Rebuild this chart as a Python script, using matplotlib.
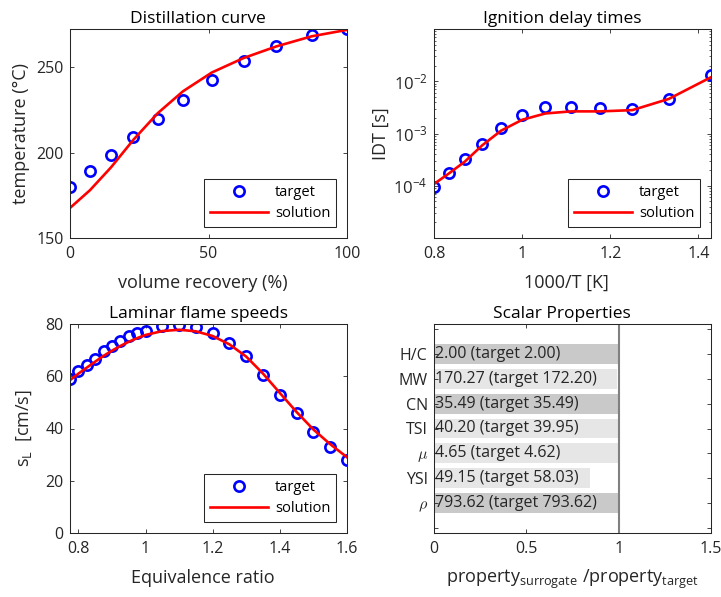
import numpy as np
import matplotlib
matplotlib.use("Agg")
import matplotlib.pyplot as plt
from matplotlib.ticker import LogLocator, NullFormatter, FixedLocator

# ---------------- data ----------------
# distillation curve
dist_recovery = [0, 7.2, 14.8, 22.9, 31.7, 40.8, 51.2, 62.7, 74.5, 87.2, 100]
dist_target = [179.9, 189.1, 198.8, 209.0, 219.7, 230.7, 242.6, 253.5, 262.7, 268.9, 272.5]
dist_sol_recovery = [0, 7.2, 14.8, 22.9, 31.7, 40.8, 51.2, 62.7, 74.5, 87.2, 100]
dist_solution = [167.6, 178.0, 191.4, 207.6, 223.2, 236.0, 247.0, 255.5, 262.3, 268.2, 272.0]

# ignition delay times
idt_invT = [0.800, 0.833, 0.870, 0.909, 0.952, 1.000, 1.053, 1.111, 1.176, 1.250, 1.333, 1.429]
idt_target = [9.3e-5, 1.75e-4, 3.26e-4, 6.3e-4, 1.27e-3, 2.29e-3, 3.16e-3, 3.26e-3,
              3.07e-3, 2.94e-3, 4.5e-3, 1.32e-2]
idt_solution = [1.08e-4, 1.7e-4, 2.9e-4, 5.9e-4, 1.13e-3, 1.83e-3, 2.42e-3, 2.65e-3,
                2.65e-3, 2.8e-3, 4.6e-3, 1.2e-2]

# laminar flame speeds
lfs_phi = [0.775, 0.8, 0.825, 0.85, 0.875, 0.9, 0.925, 0.95, 0.975, 1.0, 1.05, 1.1,
           1.15, 1.2, 1.25, 1.3, 1.35, 1.4, 1.45, 1.5, 1.55, 1.6]
lfs_target = [58.9, 62.2, 64.4, 66.7, 69.7, 71.7, 73.6, 75.3, 76.5, 77.5, 79.3, 79.7,
              78.7, 76.5, 72.7, 67.6, 60.3, 52.9, 45.9, 38.6, 32.9, 27.8]
lfs_solution = [58.5, 61.0, 63.3, 65.6, 67.8, 69.8, 71.6, 73.2, 74.6, 75.8, 77.3, 77.8,
                77.2, 75.4, 72.2, 67.5, 61.0, 53.6, 46.3, 39.6, 34.0, 29.0]

# scalar properties
prop_names = ["H/C", "MW", "CN", "TSI", r"$\mu$", "YSI", r"$\rho$"]
prop_surrogate = [2.00, 170.27, 35.49, 40.20, 4.65, 49.15, 793.62]
prop_target = [2.00, 172.20, 35.49, 39.95, 4.62, 58.03, 793.62]

# ---------------- style ----------------
FONT = ["Open Sans", "DejaVu Sans"]
plt.rcParams["font.family"] = FONT
plt.rcParams["mathtext.fontset"] = "custom"
plt.rcParams["mathtext.rm"] = "Open Sans"
plt.rcParams["mathtext.it"] = "Open Sans:italic"
AX_COLOR = "#262626"
FS_TICK = 11.5
FS_LABEL = 13
FS_TITLE = 12.5
FS_LEG = 10.5
FS_BAR = 11.5
plt.rcParams.update({
    "font.size": FS_TICK,
    "axes.edgecolor": AX_COLOR,
    "axes.labelcolor": AX_COLOR,
    "axes.labelsize": FS_LABEL,
    "xtick.labelsize": FS_TICK,
    "ytick.labelsize": FS_TICK,
    "xtick.color": AX_COLOR,
    "ytick.color": AX_COLOR,
    "axes.linewidth": 0.75,
    "xtick.direction": "in",
    "ytick.direction": "in",
    "xtick.major.size": 3,
    "ytick.major.size": 3,
    "xtick.minor.size": 1.7,
    "ytick.minor.size": 1.7,
    "xtick.major.width": 0.6,
    "ytick.major.width": 0.6,
    "xtick.minor.width": 0.5,
    "ytick.minor.width": 0.5,
    "xtick.top": True,
    "ytick.right": True,
    "xtick.major.pad": 6.0,
    "ytick.major.pad": 4.5,
})

W, H = 721, 597
fig = plt.figure(figsize=(W / 100, H / 100), dpi=100)


def px_axes(left, right, top, bottom):
    return fig.add_axes([left / W, 1 - bottom / H, (right - left) / W, (bottom - top) / H])


ax1 = px_axes(70, 347, 29, 238)
ax2 = px_axes(434, 711, 29, 238)
ax3 = px_axes(70, 347, 324, 533)
ax4 = px_axes(434, 711, 324, 533)

MK = dict(marker="o", ls="none", mfc="none", mec=(0, 0, 1), ms=7.4, mew=1.9)
LN = dict(color=(1, 0, 0), lw=1.9)


def legend(ax):
    ax.legend(loc="lower right", fontsize=FS_LEG, frameon=True, fancybox=False,
              edgecolor=AX_COLOR, framealpha=1, handlelength=4.0,
              handletextpad=0.45, borderpad=0.4, labelspacing=0.45,
              borderaxespad=0.75)
    ax.get_legend().get_frame().set_linewidth(0.75)


def title(ax, s):
    ax.set_title(s, fontsize=FS_TITLE, pad=4.5, color="black", x=0.463)


# distillation curve
ax1.plot(dist_recovery, dist_target, label="target", **MK)
ax1.plot(dist_sol_recovery, dist_solution, label="solution", **LN)
ax1.set_xlim(0, 100)
ax1.set_ylim(150, 272.5)
ax1.set_xticks([0, 50, 100])
ax1.set_yticks([150, 200, 250])
ax1.set_xlabel("volume recovery (%)")
ax1.set_ylabel("temperature (°C)")
title(ax1, "Distillation curve")
legend(ax1)

# ignition delay times
ax2.semilogy(idt_invT, idt_target, label="target", **MK)
ax2.semilogy(idt_invT, idt_solution, label="solution", **LN)
ax2.set_xlim(0.8, 1000 / 700)
ax2.set_ylim(1e-5, 1e-1)
ax2.set_xticks([0.8, 1.0, 1.2, 1.4])
ax2.set_xticklabels(["0.8", "1", "1.2", "1.4"])
ax2.yaxis.set_major_locator(FixedLocator([1e-4, 1e-3, 1e-2]))
ax2.yaxis.set_minor_locator(LogLocator(base=10, subs=np.arange(2, 10)))
ax2.yaxis.set_minor_formatter(NullFormatter())
ax2.tick_params(axis="y", which="major", labelsize=12)
ax2.set_xlabel("1000/T [K]")
ax2.set_ylabel("IDT [s]")
title(ax2, "Ignition delay times")
legend(ax2)

# laminar flame speeds
ax3.plot(lfs_phi, lfs_target, label="target", **MK)
ax3.plot(lfs_phi, lfs_solution, label="solution", **LN)
ax3.set_xlim(0.775, 1.6)
ax3.set_ylim(0, 80)
ax3.set_xticks([0.8, 1.0, 1.2, 1.4, 1.6])
ax3.set_xticklabels(["0.8", "1", "1.2", "1.4", "1.6"])
ax3.set_yticks([0, 20, 40, 60, 80])
ax3.set_xlabel("Equivalence ratio")
ax3.set_ylabel(r"$\mathregular{s_L}$  [cm/s]")
title(ax3, "Laminar flame speeds")
legend(ax3)

# scalar properties
pos = np.arange(1, len(prop_names) + 1)
ratio = np.array(prop_surrogate) / np.array(prop_target)
colors = ["#c9c9c9" if abs(s - t) < 0.005 else "#e6e6e6"
          for s, t in zip(prop_surrogate, prop_target)]
ax4.barh(pos, ratio, height=0.8, color=colors, edgecolor="none", zorder=1)
ax4.axvline(1.0, color="#808080", lw=1.5, zorder=2)
for p, s, t in zip(pos, prop_surrogate, prop_target):
    ax4.text(0.008, p, f"{s:.2f} (target {t:.2f})", va="center", ha="left",
             fontsize=FS_BAR, color=AX_COLOR, zorder=3)
ax4.set_xlim(0, 1.5)
ax4.set_ylim(8.19, -0.19)
ax4.set_xticks([0, 0.5, 1, 1.5])
ax4.set_xticklabels(["0", "0.5", "1", "1.5"])
ax4.set_yticks(np.arange(0, 9))
ax4.set_yticklabels([""] + prop_names + [""])
for lab in ax4.get_yticklabels():
    if lab.get_text().startswith("$"):
        lab.set_math_fontfamily("cm")
ax4.set_xlabel(r"$\mathregular{property_{surrogate}\ /property_{target}}$")
title(ax4, "Scalar Properties")

# label placement
for ax in (ax1, ax2, ax3):
    ax.xaxis.set_label_coords(0.478, -0.172)
ax4.xaxis.set_label_coords(0.5, -0.165)
ax1.yaxis.set_label_coords(-0.145, 0.5)
ax2.yaxis.set_label_coords(-0.16, 0.5)
ax3.yaxis.set_label_coords(-0.13, 0.5)

fig.savefig("out.png", dpi=100, facecolor="white")
